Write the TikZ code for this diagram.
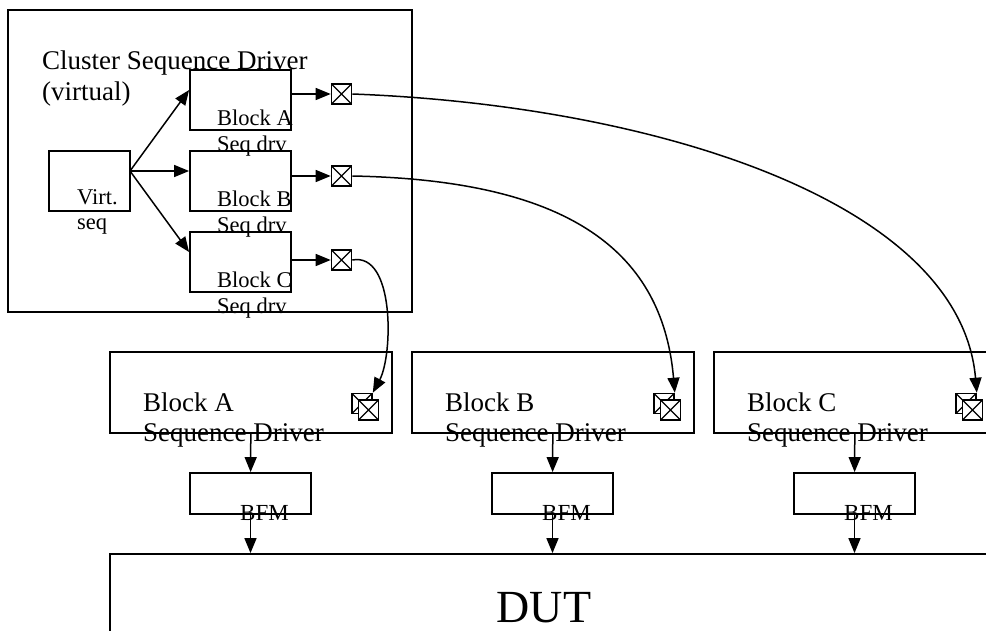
\documentclass[tikz,border=0pt]{standalone}
\usepackage{fontspec}
\setmainfont{Liberation Serif}
\usetikzlibrary{arrows.meta}
\tikzset{
  box/.style={draw,line width=1.8pt,inner sep=0pt},
  port/.style={draw,line width=1.6pt,fill=white,inner sep=0pt,minimum size=20pt,
    path picture={\draw[line width=1.3pt](path picture bounding box.north west)--(path picture bounding box.south east)
      (path picture bounding box.north east)--(path picture bounding box.south west);}},
  conn/.style={line width=1.5pt,-{Triangle[length=15pt,width=12pt]}},
  lbl/.style={inner sep=0pt,anchor=base west,align=left}
}
\begin{document}
\begin{tikzpicture}[x=1pt,y=-1pt]
  \clip (0,0) rectangle (986,630);
  % cluster driver
  \node[box,minimum width=404pt,minimum height=302pt](cluster) at (210,161){};
  \node[lbl,font=\fontsize{27}{31}\selectfont](title) at (42,100){Cluster Sequence Driver\\(virtual)};
  \node[box,minimum width=81pt,minimum height=60pt](virt) at (89.5,181){};
  \node[lbl,font=\fontsize{22.5}{25}\selectfont](virtlbl) at (77,229){Virt.\\seq};
  \coordinate(fork) at (130,171);
  \foreach \b/\y/\py in {A/100/94,B/181/176,C/262/260}{
    \node[box,minimum width=101pt,minimum height=60pt](blk\b) at (240.5,\y){};
    \node[lbl,font=\fontsize{22.5}{25.5}\selectfont](blk\b lbl) at (217,\y+51){Block \b\\Seq drv};
    \node[port](p\b) at (341.5,\py){};
    \draw[conn](fork)--([yshift=10pt]blk\b.west);
    \draw[conn](blk\b.east|-p\b)--(p\b);
  }
  % block drivers, bfms and dut
  \node[box,minimum width=890pt,minimum height=146pt](dut) at (555,627){};
  \node[inner sep=0pt,anchor=base,font=\fontsize{46}{50}\selectfont](dutlbl) at (544,622){DUT};
  \foreach \b/\x in {A/251,B/553,C/855}{
    \node[box,minimum width=282pt,minimum height=81pt](sd\b) at (\x,392.5){};
    \node[lbl,font=\fontsize{27}{30}\selectfont](sd\b lbl) at (\x-108,441){Block \b\\Sequence Driver};
    \node[port](q\b) at (\x+111,403.5){};
    \node[port](r\b) at (\x+117.5,410){};
    \node[box,minimum width=121pt,minimum height=41pt](bfm\b) at (\x-0.5,493.5){};
    \node[lbl,font=\fontsize{23}{25}\selectfont](bfm\b lbl) at (\x-11,520){BFM};
    \draw[conn](sd\b)--(bfm\b);
    \draw[conn](bfm\b)--(bfm\b|-dut.north);
  }
  \draw[conn](pA.east)..controls(650,105)and(960,200)..(qC.north east);
  \draw[conn](pB.east)..controls(560,180)and(662,245)..(qB.north east);
  \draw[conn](pC.east)..controls(395,252)and(393,355)..(qA.north east);
\end{tikzpicture}
\end{document}
